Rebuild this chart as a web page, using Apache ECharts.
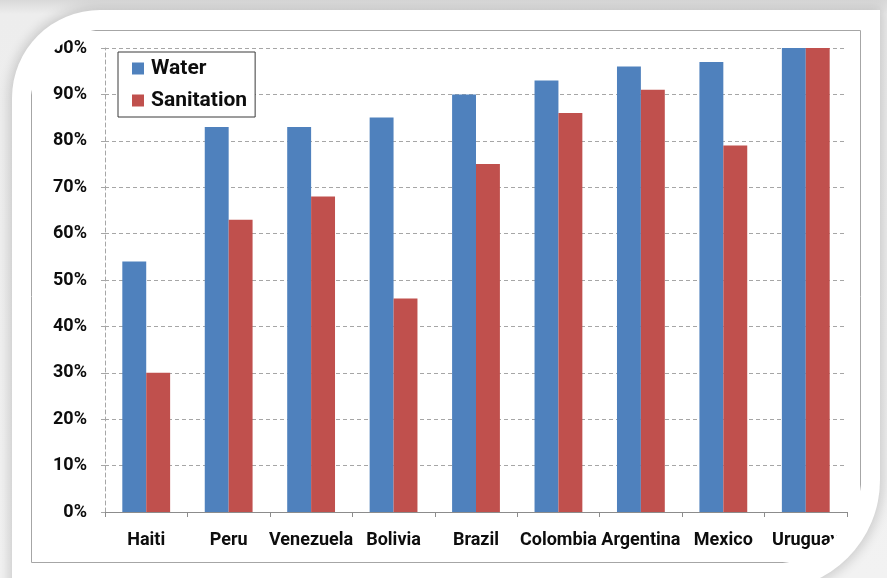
<!DOCTYPE html>
<html>
<head>
<meta charset="utf-8">
<script src="https://cdn.jsdelivr.net/npm/echarts@6/dist/echarts.min.js"></script>
<style>
  html, body { margin: 0; padding: 0; width: 887px; height: 578px; overflow: hidden;
    background: linear-gradient(#d9d9d9 0px, #ededed 14px, #f2f2f2 100%); }
  #panel { position: absolute; left: 12px; top: 10px; width: 868px; height: 580px;
    background: #ffffff; border-radius: 88px 0 110px 0;
    box-shadow: 0 0 12px 3px rgba(0,0,0,0.16); }
  #chart { position: absolute; left: 0; top: 0; width: 887px; height: 578px;
    clip-path: inset(29px 25px 14px 30px round 78px 0 92px 0); }
</style>
</head>
<body>
<div id="panel"></div>
<div id="chart"></div>
<script>
// Access to improved water and sanitation, share of population
const countries = ['Haiti', 'Peru', 'Venezuela', 'Bolivia', 'Brazil', 'Colombia', 'Argentina', 'Mexico', 'Uruguay'];
const water = [54, 83, 83, 85, 90, 93, 96, 97, 100];
const sanitation = [30, 63, 68, 46, 75, 86, 91, 79, 100];
const yTicks = [0, 10, 20, 30, 40, 50, 60, 70, 80, 90, 100];

const FONT = 'Roboto, "Open Sans", sans-serif';
const chart = echarts.init(document.getElementById('chart'), null, { renderer: 'canvas' });

chart.setOption({
  animation: false,
  backgroundColor: 'transparent',
  grid: { left: 105, right: 40, top: 48, bottom: 66, containLabel: false },
  legend: {
    orient: 'vertical',
    left: 118, top: 52,
    backgroundColor: '#ffffff',
    borderColor: '#3a3a3a', borderWidth: 1,
    padding: [6, 8, 6, 14],
    itemGap: 11,
    itemWidth: 12, itemHeight: 12,
    icon: 'rect',
    textStyle: { fontFamily: FONT, fontSize: 21, fontWeight: 'bold', color: '#0d0d0d',
      padding: [0, 0, 0, 2] },
    data: ['Water', 'Sanitation']
  },
  xAxis: {
    type: 'category',
    data: countries,
    axisLine: { lineStyle: { color: '#8c8c8c', width: 1 } },
    axisTick: { show: true, length: 5, lineStyle: { color: '#8c8c8c' } },
    axisLabel: { interval: 0, margin: 19, fontFamily: FONT, fontSize: 18, fontWeight: 'bold', color: '#0d0d0d' }
  },
  yAxis: {
    type: 'value',
    min: yTicks[0], max: yTicks[yTicks.length - 1], interval: 10,
    axisLine: { show: true, lineStyle: { color: '#a6a6a6', type: [4, 3] } },
    axisTick: { show: true, length: 5, lineStyle: { color: '#a6a6a6', type: [4, 3] } },
    splitLine: { show: true, lineStyle: { color: '#a6a6a6', type: [4, 3] } },
    axisLabel: { margin: 18, fontFamily: FONT, fontSize: 18, fontWeight: 'bold', color: '#0d0d0d',
      formatter: v => v + '%' }
  },
  series: [
    { name: 'Water', type: 'bar', data: water, barGap: '0%', barCategoryGap: '42%',
      itemStyle: { color: '#4f81bd' } },
    { name: 'Sanitation', type: 'bar', data: sanitation,
      itemStyle: { color: '#c0504d' } }
  ],
  graphic: [
    { type: 'rect', z: -1, silent: true,
      shape: { x: 31.5, y: 30.5, width: 829, height: 532 },
      style: { fill: 'none', stroke: '#a6a6a6', lineWidth: 1 } }
  ]
});
</script>
</body>
</html>
